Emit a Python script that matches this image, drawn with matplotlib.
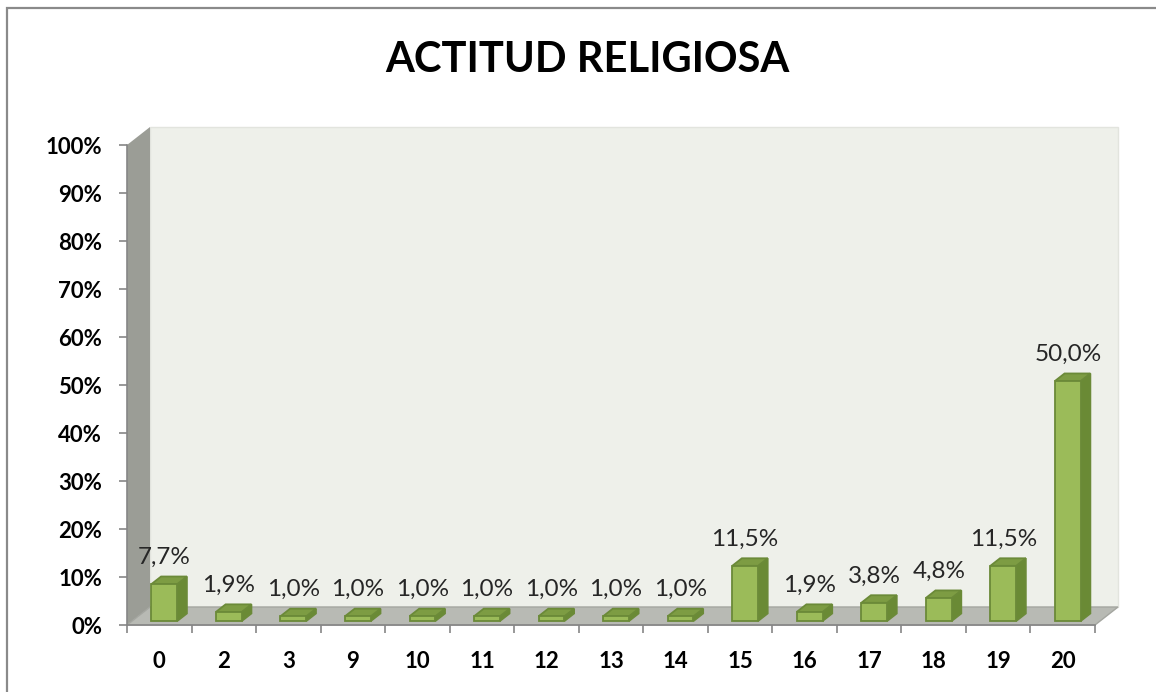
import matplotlib.pyplot as plt
from matplotlib.patches import Polygon, Rectangle

categories = ['0', '2', '3', '9', '10', '11', '12', '13', '14', '15', '16', '17', '18', '19', '20']
values = [7.7, 1.9, 1.0, 1.0, 1.0, 1.0, 1.0, 1.0, 1.0, 11.5, 1.9, 3.8, 4.8, 11.5, 50.0]
labels = [f'{v:.1f}%'.replace('.', ',') for v in values]
yticks = list(range(0, 101, 10))
title = 'ACTITUD RELIGIOSA'

plt.rcParams['font.family'] = ['Lato', 'DejaVu Sans']

W, H = 1156, 692
fig = plt.figure(figsize=(W / 100, H / 100), dpi=100)

# chart frame
fig.patches.append(Rectangle((7 / W, -0.2), 1.2, 1 - 8 / H + 0.2, transform=fig.transFigure,
                             fill=False, ec='#8a8a8a', lw=1.6))

fig.text(587 / W, 1 - 60 / H, title, ha='center', va='center',
         fontsize=30, fontweight='bold', color='black')

ax = fig.add_axes([127 / W, 1 - 625 / H, (1095 - 127) / W, (625 - 145) / H])
n = len(categories)
ax.set_xlim(-0.5, n - 0.5)
ax.set_ylim(0, 100)
ax.patch.set_visible(False)

# depth of the fake 3d box, in data units
ddx = 23 / (968 / n)
ddy = 18 / 4.8
f0, bd, bw = 0.22, 0.42, 0.40

x_l, x_r = -0.5, n - 0.5
back = Polygon([(x_l + ddx, ddy), (x_r + ddx, ddy), (x_r + ddx, 100 + ddy), (x_l + ddx, 100 + ddy)],
               fc='#eef0ea', ec='#e2e4de', lw=1, clip_on=False, zorder=0.5)
side = Polygon([(x_l, 0), (x_l + ddx, ddy), (x_l + ddx, 100 + ddy), (x_l, 100)],
               fc='#9b9d96', ec='none', clip_on=False, zorder=0.6)
floor = Polygon([(x_l, 0), (x_r, 0), (x_r + ddx, ddy), (x_l + ddx, ddy)],
                fc='#b8bab4', ec='#a4a6a0', lw=1, clip_on=False, zorder=0.7)
for p in (back, side, floor):
    ax.add_patch(p)

front_c, side_c, top_c, edge_c = '#9bbb59', '#6a8a35', '#7d9c43', '#6b8a38'
for i, (v, lab) in enumerate(zip(values, labels)):
    x0 = i - bw / 2 + f0 * ddx
    y0 = f0 * ddy
    ox, oy = bd * ddx, bd * ddy
    front = Polygon([(x0, y0), (x0 + bw, y0), (x0 + bw, y0 + v), (x0, y0 + v)])
    right = Polygon([(x0 + bw, y0), (x0 + bw + ox, y0 + oy), (x0 + bw + ox, y0 + v + oy), (x0 + bw, y0 + v)])
    top = Polygon([(x0, y0 + v), (x0 + bw, y0 + v), (x0 + bw + ox, y0 + v + oy), (x0 + ox, y0 + v + oy)])
    for p, c in ((right, side_c), (top, top_c), (front, front_c)):
        p.set_facecolor(c)
        p.set_edgecolor(edge_c)
        p.set_linewidth(1.3)
        p.set_clip_on(False)
        p.set_zorder(2)
        ax.add_patch(p)
    ax.annotate(lab, (x0 + bw / 2, y0 + v + oy), xytext=(0, 9), textcoords='offset points',
                ha='center', va='baseline', fontsize=17.5, color='#262626', zorder=3)

ax.set_yticks(yticks)
ax.set_yticklabels([f'{t}%' for t in yticks])
ax.set_xticks(range(n))
ax.set_xticklabels(categories)
ax.set_xticks([i - 0.5 for i in range(n + 1)], minor=True)
ax.tick_params(axis='x', which='major', length=0, pad=19)
ax.tick_params(axis='x', which='minor', length=6, width=1.2, color='#868686', direction='out')
ax.tick_params(axis='y', length=6, width=1.2, color='#868686', pad=12)
for t in ax.get_xticklabels() + ax.get_yticklabels():
    t.set_fontsize(16)
    t.set_fontweight('bold')
for s in ('top', 'right'):
    ax.spines[s].set_visible(False)
for s in ('left', 'bottom'):
    ax.spines[s].set_color('#868686')
    ax.spines[s].set_linewidth(1.2)
    ax.spines[s].set_zorder(1)

fig.savefig('out.png', dpi=100)
